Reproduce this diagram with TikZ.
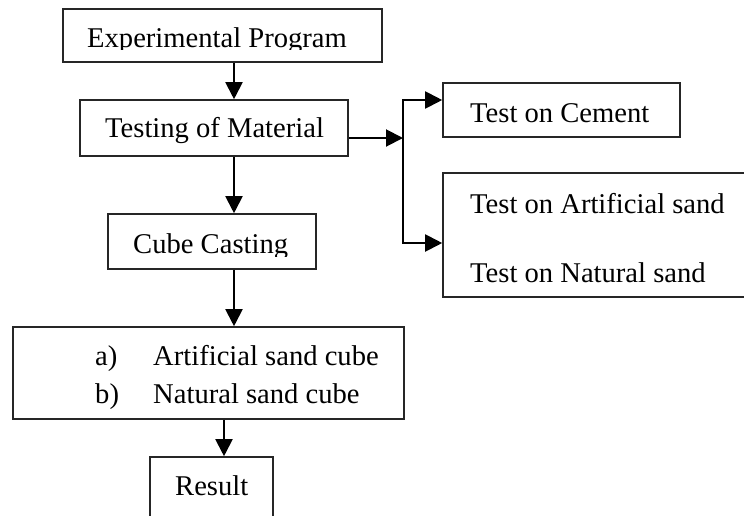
\documentclass[tikz,border=0pt]{standalone}
\usepackage{fontspec}
\setmainfont{Liberation Serif}
\usetikzlibrary{arrows.meta}
\begin{document}
\begin{tikzpicture}[x=1pt,y=-1pt,
  box/.style={draw=black!85, line width=1.6pt, inner sep=0pt, minimum width=#1},
  txt/.style={inner sep=0pt, anchor=base west, font=\fontsize{28.6}{32}\selectfont},
  arr/.style={line width=2pt, -{Triangle[length=17pt,width=17pt]}},
  ln/.style={line width=2pt}]
\useasboundingbox (0,0) rectangle (744,515);
\clip (0,0) rectangle (744,515);
% boxes
\node[box=319pt, minimum height=53pt] (b1) at (222.5,35.5) {};
\node[box=268pt, minimum height=56pt] (b2) at (214,128) {};
\node[box=208pt, minimum height=55pt] (b3) at (212,241.5) {};
\node[box=391pt, minimum height=92pt] (b4) at (208.5,373) {};
\node[box=123pt, minimum height=73pt] (b5) at (211.5,493.5) {};
\node[box=237pt, minimum height=54pt] (c1) at (561.5,110) {};
\node[box=307pt, minimum height=124pt] (c2) at (596.5,235) {};
% texts
\begin{scope}
\clip (63,9) rectangle (382,49);
\node[txt] (t1) at (87,47) {Experimental Program};
\end{scope}
\node[txt] (t2) at (105,137) {Testing of Material};
\begin{scope}
\clip (108,214) rectangle (316,256);
\node[txt] (t3) at (133,253) {Cube Casting};
\end{scope}
\node[txt] (t4a) at (95,365) {a)};
\node[txt] (t4b) at (153,365) {Artificial sand cube};
\node[txt] (t4c) at (95,403) {b)};
\node[txt] (t4d) at (153,403) {Natural sand cube};
\node[txt] (t5) at (175,495) {Result};
\node[txt] (t6) at (470,122) {Test on Cement};
\node[txt] (t7) at (470,213) {Test on Artificial sand};
\node[txt] (t8) at (470,282) {Test on Natural sand};
% connectors
\coordinate (spine) at (234,0);
\coordinate (spine2) at (224,0);
\coordinate (junc) at (403,138);
\coordinate (up) at (403,100);
\coordinate (dn) at (403,243);
\draw[arr] (b1.south -| spine) -- (b2.north -| spine);
\draw[arr] (b2.south -| spine) -- (b3.north -| spine);
\draw[arr] (b3.south -| spine) -- (b4.north -| spine);
\draw[arr] (b4.south -| spine2) -- (b5.north -| spine2);
\draw[arr] (b2.east |- junc) -- (junc);
\draw[arr] (junc) -- (up) -- (up -| c1.west);
\draw[arr] (junc) -- (dn) -- (dn -| c2.west);
\end{tikzpicture}
\end{document}
